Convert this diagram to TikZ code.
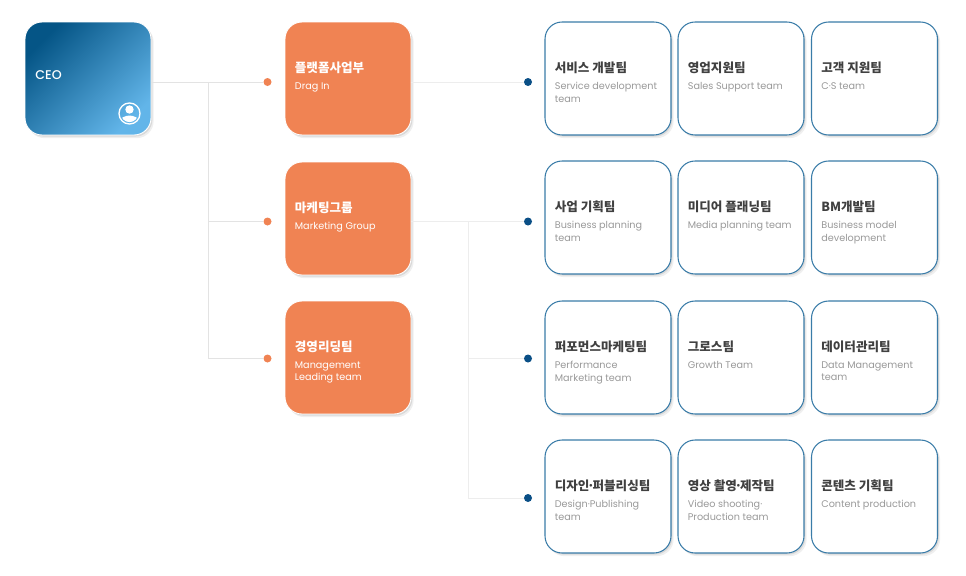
\documentclass[tikz,border=0pt]{standalone}
\usepackage{fontspec}
\setmainfont{Poppins}
\newfontfamily\krfont{Noto Sans CJK KR}
\newfontfamily\ceofont{Poppins Medium}
\usepackage{xcolor}
\usetikzlibrary{shadows}
\definecolor{orangebox}{HTML}{F08353}
\definecolor{bluedot}{HTML}{0A4F86}
\definecolor{blueedge}{HTML}{3A7CA8}
\definecolor{ceotop}{HTML}{055586}
\definecolor{ceobottom}{HTML}{62B5E9}
\tikzset{
  softshadow/.style={drop shadow={shadow xshift=1.5pt,shadow yshift=-1.8pt,opacity=0.13},drop shadow={shadow xshift=0.8pt,shadow yshift=-0.9pt,opacity=0.2}},
  cardbox/.style={rounded corners=0.34cm,minimum width=2.52cm,minimum height=2.26cm,inner sep=0pt},
  deptbox/.style={cardbox,fill=orangebox,draw=white,line width=0.5pt,softshadow},
  teambox/.style={cardbox,fill=white,draw=blueedge,line width=0.6pt,softshadow},
  titlelabel/.style={anchor=west,inner sep=0pt,font=\krfont\bfseries\fontsize{7.15}{9}\selectfont},
  sublabel/.style={anchor=north west,inner sep=0pt,align=left,font=\fontsize{5.5}{7.1}\selectfont},
  link/.style={draw=black!11,line width=0.5pt},
  lightlink/.style={draw=black!7,line width=0.5pt},
  orangedot/.style={circle,fill=orangebox,minimum size=0.16cm,inner sep=0pt},
  bluedotn/.style={circle,fill=bluedot,minimum size=0.16cm,inner sep=0pt}
}
\begin{document}
\begin{tikzpicture}[x=0.02cm,y=-0.02cm]
	\useasboundingbox (0,0) rectangle (966,575);
	% dots
	\node[orangedot] (dotA) at (267.5,82) {};
	\node[orangedot] (dotB) at (267.5,221.5) {};
	\node[orangedot] (dotC) at (267.5,358.5) {};
	\node[bluedotn] (dotD) at (528,82) {};
	\node[bluedotn] (dotE) at (528,221.5) {};
	\node[bluedotn] (dotF) at (528,358.5) {};
	\node[bluedotn] (dotG) at (528,498) {};
	% ceo
	\node[cardbox,draw=white,line width=0.5pt,top color=ceotop,bottom color=ceobottom,shading angle=45,softshadow] (ceo) at (88,78.5) {};
	\node[anchor=west,inner sep=0pt,text=white,font=\ceofont\fontsize{7.2}{9}\selectfont] (ceotext) at (35,75) {CEO};
	% person icon
	\node[circle,draw=white,line width=0.75pt,minimum size=0.42cm,inner sep=0pt] (icon) at (129.5,113.5) {};
	\fill[white] (129.5,109.5) circle (4.2);
	\begin{scope}
		\clip (129.5,113.5) circle (8.6);
		\fill[white] (119,125) .. controls (119,117) and (125,116) .. (129.5,115.5) .. controls (134,116) and (140,117) .. (140,125) -- cycle;
	\end{scope}
	% departments
	\foreach \n/\y/\ti/\su in {A/78.5/플랫폼사업부/Drag In,B/218.5/마케팅그룹/Marketing Group,C/357.5/경영리딩팀/{Management\\Leading team}}{
		\node[deptbox] (dept\n) at (348,\y) {};
		\node[titlelabel,text=white] (dept\n t) at ([xshift=0.2cm,yshift=0.22cm]dept\n.west) {\ti};
		\node[sublabel,text=white] (dept\n s) at ([yshift=-0.29cm]dept\n t.west) {\su};
	}
	% teams
	\foreach \n/\x/\y/\ti/\su in {
		a/608/78.5/서비스 개발팀/{Service development\\team},
		b/741/78.5/영업지원팀/Sales Support team,
		c/874.5/78.5/고객 지원팀/C·S team,
		d/608/217.5/사업 기획팀/{Business planning\\team},
		e/741/217.5/미디어 플래닝팀/Media planning team,
		f/874.5/217.5/BM개발팀/{Business model\\development},
		g/608/357.5/퍼포먼스마케팅팀/{Performance\\Marketing team},
		h/741/357.5/그로스팀/Growth Team,
		i/874.5/357.5/데이터관리팀/{Data Management\\team},
		j/608/496.5/{디자인\kern-1.3pt·\kern-1.3pt퍼블리싱팀}/{Design·Publishing\\team},
		k/741/496.5/{영상 촬영\kern-1.3pt·\kern-1.3pt제작팀}/{Video shooting·\\Production team},
		l/874.5/496.5/콘텐츠 기획팀/Content production}{
		\node[teambox] (team\n) at (\x,\y) {};
		\node[titlelabel,text=black!75] (team\n t) at ([xshift=0.2cm,yshift=0.22cm]team\n.west) {\ti};
		\node[sublabel,text=black!40] (team\n s) at ([yshift=-0.29cm]team\n t.west) {\su};
	}
	% connectors
	\draw[link] (dotA -| ceo.east) -- (dotA);
	\coordinate (jointA) at (208,82);
	\draw[link] (jointA) -- (jointA |- dotC) -- (dotC);
	\draw[link] (jointA |- dotB) -- (dotB);
	\draw[lightlink,shorten <=-0.5pt] (dotD -| deptA.east) -- (dotD);
	\draw[lightlink,shorten <=-0.5pt] (dotE -| deptB.east) -- (dotE);
	\coordinate (jointB) at (468,221.5);
	\draw[lightlink] (jointB) -- (jointB |- dotG) -- (dotG);
	\draw[lightlink] (jointB |- dotF) -- (dotF);
\end{tikzpicture}
\end{document}
